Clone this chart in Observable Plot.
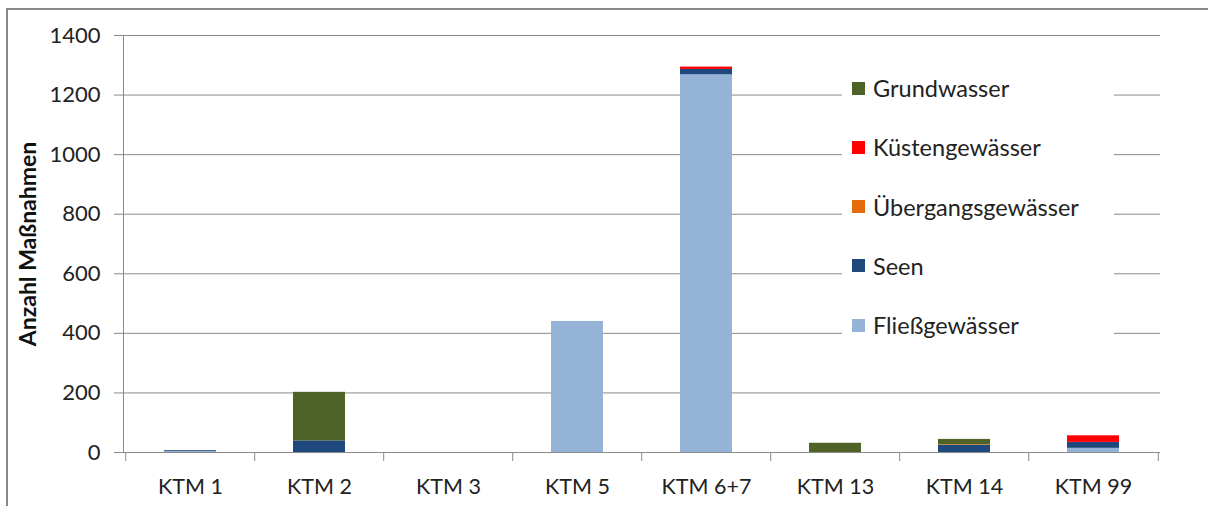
<!DOCTYPE html>
<html>
<head>
<meta charset="utf-8">
<script src="https://cdn.jsdelivr.net/npm/d3@7"></script>
<script src="https://cdn.jsdelivr.net/npm/@observablehq/plot@0.6"></script>
<style>
  html, body { margin: 0; padding: 0; background: #fff; }
  #wrap { position: relative; width: 1208px; height: 506px; overflow: hidden; font-family: Lato, "Open Sans", sans-serif; }
  #frame { position: absolute; left: 6px; top: 8px; width: 1300px; height: 600px; border: 2px solid #888; box-sizing: border-box; }
  #legend { position: absolute; left: 842px; top: 66px; width: 272px; height: 280px; background: #fff; }
  .item { position: absolute; left: 10px; display: flex; align-items: center; font-size: 23.5px; color: #222; }
  .sw { width: 13px; height: 13px; margin-right: 8px; }
</style>
</head>
<body>
<div id="wrap"><div id="frame"></div></div>
<script>
const categories = ["KTM 1", "KTM 2", "KTM 3", "KTM 5", "KTM 6+7", "KTM 13", "KTM 14", "KTM 99"];
const series = ["Fließgewässer", "Seen", "Übergangsgewässer", "Küstengewässer", "Grundwasser"];
const colors = ["#95B3D7", "#1F497D", "#E46C0A", "#FF0000", "#4F6228"];
const fliessgewaesser = [3, 0, 0, 440, 1268, 0, 0, 14];
const seen = [3, 39, 0, 0, 18, 0, 24, 20];
const uebergangsgewaesser = [0, 0, 0, 0, 0, 0, 2, 0];
const kuestengewaesser = [0, 0, 0, 0, 8, 0, 0, 22];
const grundwasser = [0, 163, 0, 0, 0, 31, 18, 0];
const yTicks = [0, 200, 400, 600, 800, 1000, 1200, 1400];
const legendOrder = ["Grundwasser", "Küstengewässer", "Übergangsgewässer", "Seen", "Fließgewässer"];

const valuesBySeries = [fliessgewaesser, seen, uebergangsgewaesser, kuestengewaesser, grundwasser];
const data = [];
series.forEach((s, i) => categories.forEach((c, j) => data.push({cat: c, series: s, value: valuesBySeries[i][j]})));

const W = 1208, H = 506;
const margin = {top: 35, right: 48, bottom: 54, left: 123};
const step = (W - margin.left - margin.right) / categories.length;
const grid = "#8a8a8a";
const font = "Lato, 'Open Sans', sans-serif";

const chart = Plot.plot({
  width: W,
  height: H,
  marginTop: margin.top,
  marginRight: margin.right,
  marginBottom: margin.bottom,
  marginLeft: margin.left,
  style: {fontFamily: font, fontSize: "21px", color: "#222", background: "transparent", overflow: "visible"},
  x: {domain: categories, paddingInner: 0.6, paddingOuter: 0.3, label: null},
  y: {domain: [0, 1400], label: null},
  color: {domain: series, range: colors},
  marks: [
    Plot.gridY(yTicks, {stroke: grid, strokeOpacity: 1}),
    Plot.barY(data, Plot.stackY({x: "cat", y: "value", fill: "series", order: series})),
    Plot.ruleY([0], {stroke: grid}),
    Plot.frame({anchor: "left", stroke: grid}),
    Plot.axisY(yTicks, {tickSize: 9, tickPadding: 14, tickFormat: d => String(d), stroke: grid, fill: "#222", fontSize: 22, label: null}),
    Plot.axisX({tickSize: 0, tickPadding: 26, fill: "#222", fontSize: 21.5, label: null}),
    Plot.axisX({tickSize: 9, text: null, stroke: grid, dx: -step / 2, label: null}),
    Plot.axisX([categories[categories.length - 1]], {tickSize: 9, text: null, stroke: grid, dx: step / 2, label: null}),
    Plot.text(["Anzahl Maßnahmen"], {frameAnchor: "left", textAnchor: "middle", dx: -95, rotate: -90, fontWeight: "bold", fontSize: 23, fill: "#111"})
  ]
});
chart.style.position = "absolute";
chart.style.left = "0px";
chart.style.top = "0px";
const wrap = document.getElementById("wrap");
wrap.appendChild(chart);

const legend = document.createElement("div");
legend.id = "legend";
legendOrder.forEach((name, i) => {
  const it = document.createElement("div");
  it.className = "item";
  it.style.top = (8 + i * 59.3) + "px";
  const sw = document.createElement("div");
  sw.className = "sw";
  sw.style.background = colors[series.indexOf(name)];
  const t = document.createElement("span");
  t.textContent = name;
  it.appendChild(sw);
  it.appendChild(t);
  legend.appendChild(it);
});
wrap.appendChild(legend);
</script>
</body>
</html>
